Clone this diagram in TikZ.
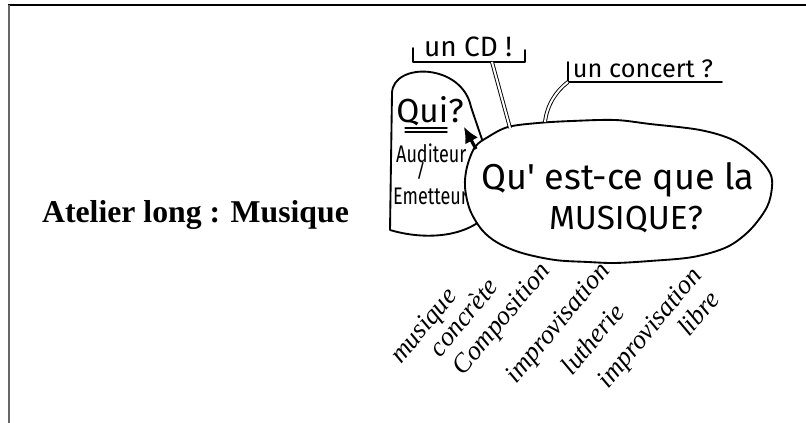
\documentclass[tikz,border=0pt]{standalone}
\usepackage{fontspec}
\setmainfont{Liberation Serif}
\newfontfamily\handfont{Fira Sans}
\usetikzlibrary{arrows.meta,positioning}

\begin{document}
\begin{tikzpicture}[
    x=0.75pt, y=0.75pt,
    sketch/.style={line width=1.4pt, line cap=round, line join=round},
    twin/.style={double, line width=0.7pt, double distance=1.5pt},
    hand/.style={font=\handfont\fontsize{#1}{#1}\selectfont, inner sep=0pt},
    theme/.style={font=\fontsize{20}{20}\selectfont\itshape, rotate=50, inner sep=0pt}
]
\useasboundingbox (0,0) rectangle (806,423);

% Frame of the slide
\draw[line width=1.5pt] (8,418) -- (806,418);
\draw[line width=1.5pt, black!60] (9,418) -- (9,0);

% Title on the left
\node[font=\bfseries\fontsize{23.8}{28}\selectfont, anchor=base, inner sep=0pt] (title) at (195.5,200.5) {Atelier long : Musique};

% Tombstone box behind the bubble
\draw[sketch] (390,193) -- (392,330) .. controls (393,361) and (462,360) .. (471,316)
    -- (490,260) -- (484,205) .. controls (460,184) and (420,184) .. (390,193);

% Who? texts
\node[hand=25, anchor=base] (qui) at (430,300) {Qui?};
\draw[sketch, line width=1pt] (405,295) -- (447,295) (405,291) -- (447,291);
\node[hand=18, xscale=0.75, anchor=base west] (aud) at (396,260) {Auditeur};
\node[hand=14, anchor=base] (slash) at (421,245) {/};
\node[hand=18, xscale=0.75, anchor=base west] (emet) at (393,218) {Emetteur};

% Central bubble, drawn by hand
\draw[sketch, fill=white] plot[smooth cycle, tension=0.55] coordinates {
    (465,236) (467,256) (475,276) (488,286) (508,296) (538,300) (572,302)
    (615,303) (650,299) (700,293) (733,283) (757,266) (770,250) (772,236)
    (767,216) (750,193) (727,176) (693,166) (650,162) (615,160) (588,161)
    (555,163) (522,170) (498,180) (482,193) (470,213)};
\coordinate (arrowfoot) at (476,274);
\coordinate (cdend) at (510,295);
\coordinate (concertend) at (545,301);
\node[hand=27, anchor=base] (q1) at (618,233) {Qu' est-ce que la};
\node[hand=25, below=6pt of q1, xshift=6pt] (q2) {MUSIQUE?};

% Arrow back to the question
\draw[line width=2.4pt, -{Latex[length=12pt, width=11pt]}] (arrowfoot) -- (qui.south east);

% Question brackets above
\node[hand=21, anchor=base] (cd) at (468,366) {un CD !};
\draw[sketch] (413,375) |- (525,361) -- (525,373);
\coordinate (cdfoot) at (492,361);
\draw[twin] (cdfoot) -- (cdend);

\node[hand=19, anchor=base] (concert) at (643,345) {un concert ?};
\draw[sketch] (568,361) |- (722,341);
\coordinate (concertfoot) at (568,341);
\draw[twin] (concertfoot) .. controls (556,332) and (547,318) .. (concertend);

% Themes below the bubble
\node[theme] (t1) at (425,96) {musique};
\node[theme] (t2) at (463,106) {concrète};
\node[theme] (t3) at (503,103) {Composition};
\node[theme] (t4) at (559,99) {improvisation};
\node[theme] (t5) at (592,84) {lutherie};
\node[theme] (t6) at (651,94) {improvisation};
\node[theme] (t7) at (698,110) {libre};

\end{tikzpicture}
\end{document}
